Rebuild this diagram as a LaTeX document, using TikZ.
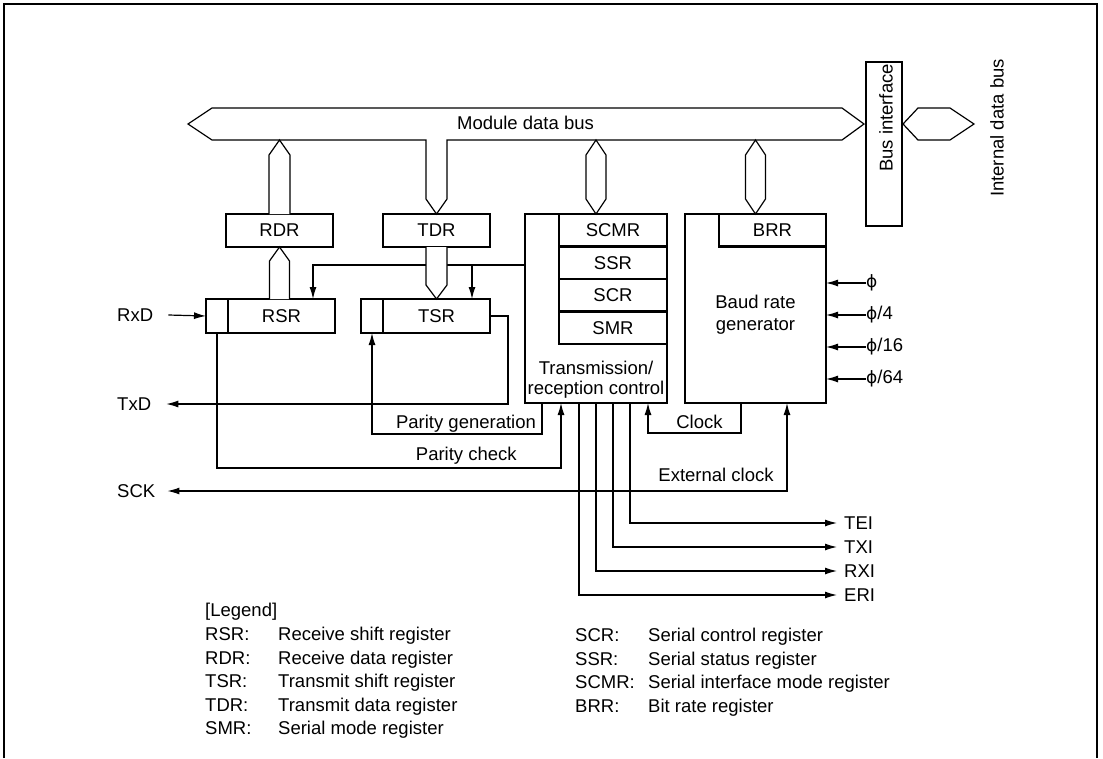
\documentclass[tikz,border=0pt]{standalone}
\usepackage{fontspec}
\setmainfont{Liberation Sans}
\newfontfamily\phifont{DejaVu Sans}
\usetikzlibrary{arrows.meta}
\newcommand\lblfont{\fontsize{18.5pt}{21pt}\selectfont}
\newcommand\clkphi{{\phifont\fontsize{17pt}{20pt}\selectfont ϕ}}
\tikzset{
  reg/.style={draw, line width=2.2pt, minimum height=33pt, inner sep=0pt, outer sep=0pt},
  bus/.style={draw, line width=1.2pt, fill=white, line join=miter},
  sig/.style={line width=1.2pt},
  arr/.style={-{Latex[length=12pt,width=7pt]}},
  arrs/.style={{Latex[length=12pt,width=7pt]}-{Latex[length=12pt,width=7pt]}},
  port/.style={inner sep=0pt, anchor=west},
  legend/.style={inner sep=0pt, anchor=base west},
}
\begin{document}
\begin{tikzpicture}[x=1pt, y=-1pt, font=\lblfont]
  \useasboundingbox (0,0) rectangle (1103,758);
  \draw[line width=2.4pt] (4,758) -- (4,4) -- (1097,4) -- (1097,758);

  % registers
  \node[reg, minimum width=107pt] (rdr) at (279.5,230.5) {RDR};
  \node[reg, minimum width=107pt] (tdr) at (436.5,230.5) {TDR};
  \node[reg, minimum width=107pt, minimum height=34pt] (rsr) at (281.5,316) {RSR};
  \node[reg, minimum width=22pt, minimum height=34pt, anchor=east] (rsrbit) at (rsr.west) {};
  \node[reg, minimum width=107pt, minimum height=34pt] (tsr) at (436.5,316) {TSR};
  \node[reg, minimum width=22pt, minimum height=34pt, anchor=east] (tsrbit) at (tsr.west) {};

  \node[reg, minimum width=142pt, minimum height=189pt] (ctrl) at (596,308.5) {};
  \node[reg, minimum width=108pt, minimum height=32.5pt, anchor=north east] (scmr) at (ctrl.north east) {SCMR};
  \node[reg, minimum width=108pt, minimum height=32.5pt, anchor=north] (ssr) at (scmr.south) {SSR};
  \node[reg, minimum width=108pt, minimum height=32.5pt, anchor=north] (scr) at (ssr.south) {SCR};
  \node[reg, minimum width=108pt, minimum height=32.5pt, anchor=north] (smr) at (scr.south) {SMR};
  \node[align=center, font=\fontsize{18.5pt}{20pt}\selectfont] at (596,380) {Transmission/\\reception control};

  \node[reg, minimum width=141pt, minimum height=189pt] (brg) at (755.5,308.5) {};
  \node[reg, minimum width=107pt, minimum height=32.5pt, anchor=north east] (brr) at (brg.north east) {BRR};
  \node[align=center, font=\fontsize{18.5pt}{22pt}\selectfont] at (755.5,315) {Baud rate\\generator};

  \node[reg, minimum width=36pt, minimum height=164pt] (busif) at (884,144) {};
  \node[rotate=90] at (886,118) {Bus interface};
  \node[rotate=90] at (997,128) {Internal data bus};

  % buses
  \draw[bus] (188,124) -- (212,108) -- (842,108) -- (864,124) -- (842,140) -- (447,140)
    -- (447,199) -- (tdr.north) -- (426,199) -- (426,140) -- (212,140) -- cycle;
  \node[anchor=base] at (525.5,129) {Module data bus};
  \draw[bus] (903,124) -- (918,108) -- (950,108) -- (974,124) -- (950,140) -- (918,140) -- cycle;
  \draw[bus] ([xshift=-10.5pt]rdr.north) -- ++(0,-59) -- ++(10.5,-15) -- ++(10.5,15) -- ++(0,59);
  \draw[bus] (ctrl.north) -- ++(-10,-15) -- ++(0,-44) -- ++(10,-15) -- ++(10,15) -- ++(0,44) -- cycle;
  \draw[bus] (brg.north) -- ++(-10,-15) -- ++(0,-44) -- ++(10,-15) -- ++(10,15) -- ++(0,44) -- cycle;
  \draw[bus] (rdr.south) ++(-10,52) -- ++(0,-38) -- ++(10,-14) -- ++(10,14) -- ++(0,38);

  % control to shift registers
  \coordinate (ctl) at ([yshift=-51pt]ctrl.north west);
  \coordinate (tap) at ([xshift=35.5pt]tsr.north);
  \draw[sig,arr] (ctl) -| ([xshift=31.5pt]rsr.north);
  \draw[sig,arr] (tap |- ctl) -- (tap);
  \draw[bus] (tdr.south) ++(-10.5,0) -- ++(0,38) -- (tsr.north) -- ++(10.5,-14) -- ++(0,-38);

  % ports
  \node[port] (rxd) at (117,315) {RxD};
  \node[port] (txd) at (117,404) {TxD};
  \node[port] (sck) at (117,491) {SCK};
  \draw[sig,arr] ([xshift=15pt]rxd.east) -- (rsrbit.west);
  \draw[sig,arr] (tsr.east) -- ++(18,0) |- ([xshift=15pt]txd.east);

  \draw[sig,arr] ([xshift=-54pt]ctrl.south) -- ++(0,31) -| (tsrbit.south);
  \node[anchor=base] at (466,428.3) {Parity generation};
  \draw[sig,arr] (rsrbit.south) -- ++(0,135) -| ([xshift=-35pt]ctrl.south);
  \node[anchor=base] at (466.3,460.7) {Parity check};

  \draw[sig,arr] ([xshift=-14.5pt]brg.south) -- ++(0,30) -| ([xshift=52pt]ctrl.south);
  \node[anchor=base] at (699.5,428.5) {Clock};
  \draw[sig,arrs] ([xshift=31.5pt]brg.south) |- ([xshift=12pt]sck.east);
  \node[anchor=base] at (716,481) {External clock};

  \foreach \i/\lab in {0/{\clkphi}, 1/{\clkphi/4}, 2/{\clkphi/16}, 3/{\clkphi/64}} {
    \node[port] (clk\i) at (866,283+32*\i) {\lab};
    \draw[sig,arr] (clk\i.west) -- (brg.east |- clk\i.west);
  }

  \foreach \dx/\nm/\yy in {34/TEI/523, 17/TXI/547, 0/RXI/571, -17/ERI/595} {
    \node[port] (\nm) at (844,\yy) {\nm};
    \draw[sig,arr] ([xshift=\dx pt]ctrl.south) |- ([xshift=-7pt]\nm.west);
  }

  % legend
  \node[legend] at (205,616.8) {[Legend]};
  \foreach \ab/\txt [count=\i] in {RSR:/Receive shift register, RDR:/Receive data register,
      TSR:/Transmit shift register, TDR:/Transmit data register, SMR:/Serial mode register} {
    \node[legend] at (205,616.8+23.6*\i) {\ab};
    \node[legend] at (278,616.8+23.6*\i) {\txt};
  }
  \foreach \ab/\txt [count=\i] in {SCR:/Serial control register, SSR:/Serial status register,
      SCMR:/Serial interface mode register, BRR:/Bit rate register} {
    \node[legend] at (575,617.8+23.6*\i) {\ab};
    \node[legend] at (648,617.8+23.6*\i) {\txt};
  }
\end{tikzpicture}
\end{document}
